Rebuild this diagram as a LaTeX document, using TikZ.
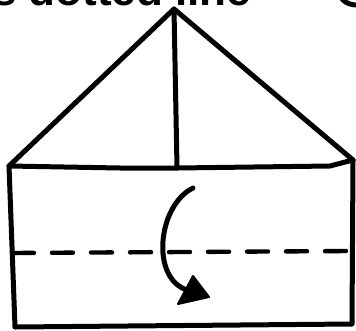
\documentclass[tikz,border=0pt]{standalone}
\usepackage{fontspec}
\setmainfont{Liberation Sans}
\begin{document}
\begin{tikzpicture}[x=1pt,y=-1pt,
  pen/.style={line width=5pt,line join=round,line cap=round},
  foldline/.style={line width=4.4pt,line cap=round,dash pattern=on 21pt off 18pt},
  caption/.style={inner sep=0pt,anchor=base west,font=\fontsize{44}{44}\selectfont\bfseries}]
\useasboundingbox (0,0) rectangle (356,330);
\coordinate (apex) at (174,9);
\coordinate (tl) at (9,166);
\coordinate (tr) at (353,160);
\coordinate (bl) at (15,327);
\coordinate (br) at (352,324);
\coordinate (mid) at (177,168);
\node[caption] (txt) at (-8,5) {s dotted line};
\draw[pen] (341,-3) .. controls (343,1) and (347,4) .. (355,5);
% triangle flap
\draw[pen] (tl) -- (apex) -- (tr);
\draw[pen] (apex) -- (mid);
% rectangle
\draw[pen] (tl) -- (120,168) -- (mid) -- (330,166) -- (tr);
\draw[pen] (tl) -- (bl) -- (br) -- (tr);
% dashed fold line
\coordinate (dl) at (13,253);
\coordinate (dr) at (348,251);
\draw[foldline] (dl) -- (dr);
% arrow
\coordinate (as) at (193,188);
\coordinate (ae) at (187,290);
\draw[pen] (as) .. controls (158,205) and (150,278) .. (ae);
\fill[line join=round] (178,304) -- (193,276) -- (209,297) -- cycle;
\draw[line width=2pt,line join=round] (178,304) -- (193,276) -- (209,297) -- cycle;
\end{tikzpicture}
\end{document}
